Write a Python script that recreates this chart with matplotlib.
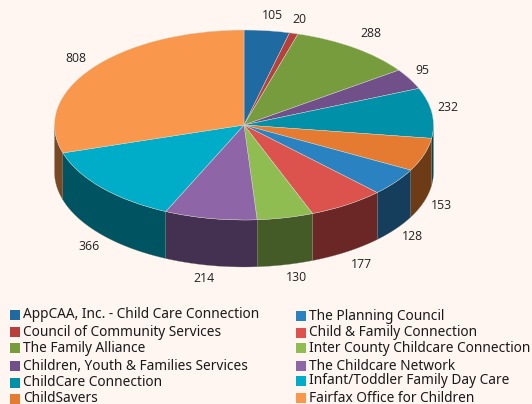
import numpy as np
import matplotlib
matplotlib.use('Agg')
import matplotlib.pyplot as plt
from matplotlib.patches import Rectangle

# Data, clockwise from 12 o'clock
names = ['AppCAA, Inc. - Child Care Connection', 'Council of Community Services',
         'The Family Alliance', 'Children, Youth & Families Services',
         'ChildCare Connection', 'ChildSavers', 'The Planning Council',
         'Child & Family Connection', 'Inter County Childcare Connection',
         'The Childcare Network', 'Infant/Toddler Family Day Care',
         'Fairfax Office for Children']
values = [105, 20, 288, 95, 232, 153, 128, 177, 130, 214, 366, 808]
colors = ['#1f6aa0', '#b8403c', '#769c3e', '#71508a', '#0090a8', '#e57b30',
          '#2a82c0', '#dc524d', '#8fbd52', '#8e65a6', '#00adc8', '#f9984c']

bg = '#fff6f1'
# pie geometry in pixels
cx, cy, rx, ry, depth = 244, 125, 189.5, 95, 47
# label offsets in pixels from the rim
offsets = [(5, 15), (6, 14), (16, 14), (13, 8), (16, 5), (17, -4), (17, -8),
           (14, -13), (11, -13), (-6, -13), (-13, -12), (-16, 10)]
col_x = [10, 296]
row_y = [[315, 332, 348, 366, 383, 399], [316, 333, 348, 366, 381, 398]]

fig = plt.figure(figsize=(5.32, 4.04), dpi=100, facecolor=bg)
ax = fig.add_axes([0, 0, 1, 1])
ax.pie(values, colors=colors, startangle=90, counterclock=False, radius=1,
       wedgeprops={'edgecolor': '#d8d8d0', 'linewidth': 0.3, 'zorder': 3})
ax.set_aspect('auto')
ax.set_xlim(-cx / rx, (532 - cx) / rx)
ax.set_ylim((cy - 404) / ry, cy / ry)
ax.axis('off')

edges = np.cumsum([0] + values) / sum(values) * 2 * np.pi
d = depth / ry

# side wall, only where the rim faces the viewer
for i in range(len(values)):
    a0 = max(edges[i], np.pi / 2)
    a1 = min(edges[i + 1], 3 * np.pi / 2)
    if a1 <= a0:
        continue
    t = np.linspace(a0, a1, 60)
    xs = np.sin(t)
    ys = np.cos(t)
    wall = matplotlib.colors.to_rgb(colors[i])
    wall = [c * 0.48 for c in wall]
    ax.fill(np.r_[xs, xs[::-1]], np.r_[ys, ys[::-1] - d], color=wall,
            ec='#8a8a80', lw=0.2, zorder=2)

# value labels
for i, v in enumerate(values):
    mid = (edges[i] + edges[i + 1]) / 2
    x, y = np.sin(mid), np.cos(mid)
    if np.pi / 2 < mid < 3 * np.pi / 2:
        y = y - d
    ax.annotate(str(v), (x, y), xytext=offsets[i], textcoords='offset pixels',
                ha='center', va='center', fontsize=8.8, family='Open Sans',
                color='#222222')

# legend
lax = fig.add_axes([0, 0, 1, 1])
lax.set_xlim(0, 532)
lax.set_ylim(404, 0)
lax.axis('off')
for i, name in enumerate(names):
    col, row = divmod(i, 6)
    x, y = col_x[col], row_y[col][row]
    lax.add_patch(Rectangle((x, y - 5), 10, 10, fc=colors[i], ec='none', clip_on=False))
    lax.text(x + 13, y, name, ha='left', va='center', fontsize=9.85, family='Noto Sans',
             color='#1a1a1a')

fig.savefig('out.png', dpi=100, facecolor=bg)
